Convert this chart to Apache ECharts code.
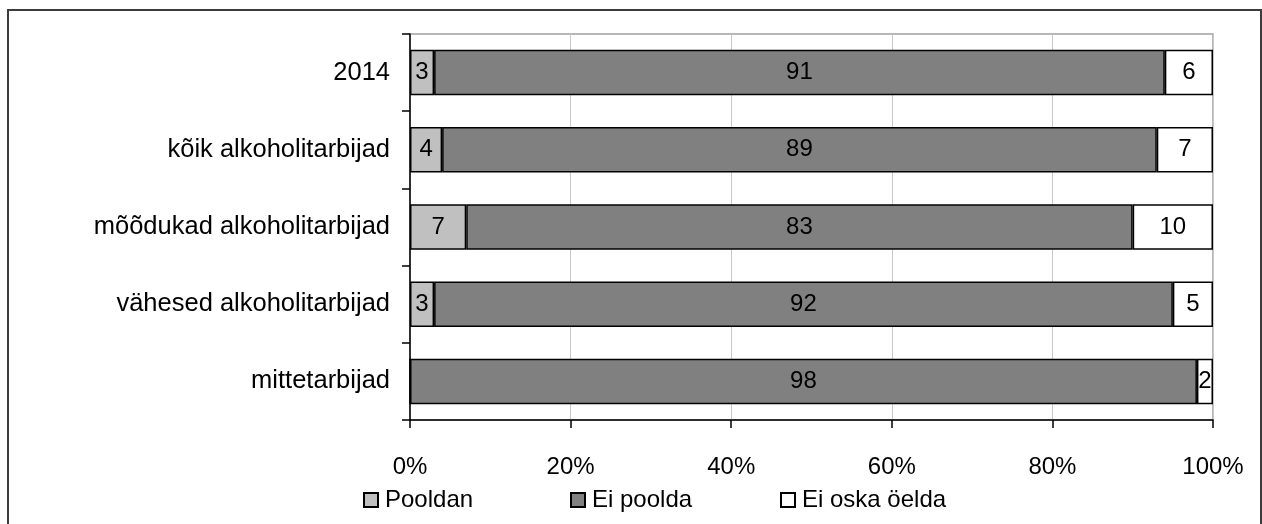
<!DOCTYPE html>
<html>
<head>
<meta charset="utf-8">
<script src="https://cdn.jsdelivr.net/npm/echarts@6/dist/echarts.min.js"></script>
<style>
html,body{margin:0;padding:0;background:#fff;}
#chart{width:1262px;height:524px;}
</style>
</head>
<body>
<div id="chart"></div>
<script>
const categories = ['2014', 'kõik alkoholitarbijad', 'mõõdukad alkoholitarbijad', 'vähesed alkoholitarbijad', 'mittetarbijad'];
const pooldan = [3, 4, 7, 3, 0];
const eiPoolda = [91, 89, 83, 92, 98];
const eiOska = [6, 7, 10, 5, 2];
const seriesNames = ['Pooldan', 'Ei poolda', 'Ei oska öelda'];
const xTicks = [0, 20, 40, 60, 80, 100];

const FONT = 'Liberation Sans, Arial, sans-serif';
const chart = echarts.init(document.getElementById('chart'), null, {renderer: 'canvas'});

function mkSeries(name, data, color) {
  return {
    name: name, type: 'bar', stack: 'total', data: data,
    barCategoryGap: '41%',
    itemStyle: {color: color, borderColor: '#000', borderWidth: 1.5},
    label: {
      show: true, position: 'inside', color: '#000',
      fontFamily: FONT, fontSize: 24,
      formatter: p => (p.value ? String(p.value) : '')
    },
    emphasis: {disabled: true}
  };
}

function mkLegend(name, left) {
  return {
    data: [name], left: left, top: 483, icon: 'rect',
    itemWidth: 14, itemHeight: 14, itemGap: 0,
    textStyle: {fontFamily: FONT, fontSize: 24, color: '#000', padding: [0, 0, 0, 2]}
  };
}

chart.setOption({
  animation: false,
  backgroundColor: '#fff',
  graphic: [{
    type: 'rect', shape: {x: 8, y: 10, width: 1253, height: 530},
    style: {fill: 'none', stroke: '#3c3c3c', lineWidth: 2}, silent: true, z: 100
  }],
  grid: {left: 410, right: 49, top: 34, bottom: 104, show: true, borderColor: '#a0a0a0', borderWidth: 1.5},
  legend: [mkLegend(seriesNames[0], 358), mkLegend(seriesNames[1], 565), mkLegend(seriesNames[2], 775)],
  xAxis: {
    type: 'value', min: 0, max: 100, interval: 20,
    axisLine: {show: true, lineStyle: {color: '#000', width: 1.5}},
    axisTick: {show: true, length: 8, lineStyle: {color: '#000', width: 1.5}},
    splitLine: {show: true, lineStyle: {color: '#c8c8c8', width: 1}},
    axisLabel: {
      fontFamily: FONT, fontSize: 24, color: '#000', margin: 35,
      formatter: v => (xTicks.indexOf(v) >= 0 ? v + '%' : '')
    }
  },
  yAxis: {
    type: 'category', data: categories, inverse: true,
    axisLine: {show: true, lineStyle: {color: '#000', width: 1.5}},
    axisTick: {show: true, length: 8, lineStyle: {color: '#000', width: 1.5}},
    axisLabel: {fontFamily: FONT, fontSize: 25.5, color: '#000', margin: 20}
  },
  series: [
    mkSeries(seriesNames[0], pooldan, '#c0c0c0'),
    mkSeries(seriesNames[1], eiPoolda, '#808080'),
    mkSeries(seriesNames[2], eiOska, '#ffffff')
  ]
});
</script>
</body>
</html>
